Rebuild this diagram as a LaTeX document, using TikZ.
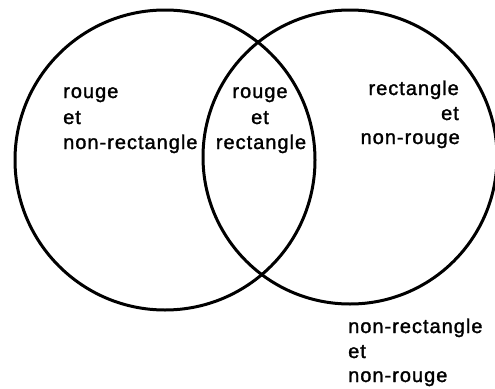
\documentclass[tikz,border=0pt]{standalone}
\usepackage{fontspec}
\newfontfamily\labfont[LetterSpace=5,FakeBold=1.5]{Liberation Sans}
\begin{document}
\begin{tikzpicture}[x=1pt,y=-1pt,
  ring/.style={draw=black,line width=3pt},
  lbl/.style={font=\labfont\fontsize{20}{25}\selectfont,inner sep=0pt,text=black}]
\useasboundingbox (0,0) rectangle (495,388);
\node[ring,circle,minimum size=300pt,inner sep=0pt] (A) at (165,160) {};
\node[ring,circle,minimum size=294pt,inner sep=0pt] (B) at (350,157) {};
% left region
\node[lbl,anchor=base west] (l1) at (63,98) {rouge};
\node[lbl,anchor=base west] (l2) at (63,124) {et};
\node[lbl,anchor=base west] (l3) at (63,149) {non-rectangle};
% middle region
\node[lbl,anchor=base] (m1) at (260,98) {rouge};
\node[lbl,anchor=base] (m2) at (260,124) {et};
\node[lbl,anchor=base] (m3) at (261,149) {rectangle};
% right region
\node[lbl,anchor=base east] (r1) at (459,95) {rectangle};
\node[lbl,anchor=base east] (r2) at (459,120) {et};
\node[lbl,anchor=base east] (r3) at (460,144) {non-rouge};
% outside
\node[lbl,anchor=base west] (o1) at (348,333) {non-rectangle};
\node[lbl,anchor=base west] (o2) at (348,358) {et};
\node[lbl,anchor=base west] (o3) at (348,382) {non-rouge};
\end{tikzpicture}
\end{document}
